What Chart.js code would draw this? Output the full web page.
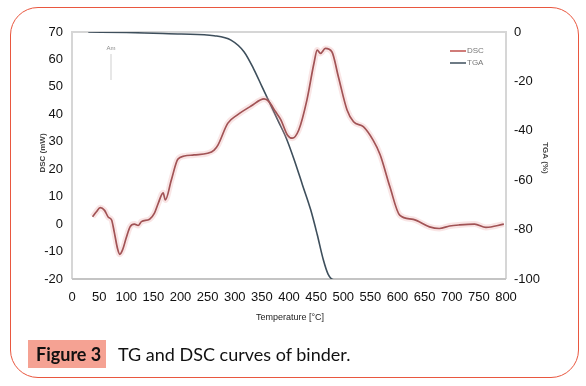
<!DOCTYPE html>
<html>
<head>
<meta charset="utf-8">
<script src="https://cdn.jsdelivr.net/npm/chart.js@4"></script>
<style>
    body { margin: 0; background: #fff; }
    #wrap { position: relative; width: 586px; height: 386px; overflow: hidden; }
    #frame {
        position: absolute; left: 10px; top: 7px; width: 569px; height: 371px;
        border: 1.5px solid #e9573f; border-radius: 28px; box-sizing: border-box;
    }
    #chart { position: absolute; left: 0; top: 0; }
    #caption {
        position: absolute; left: 28px; top: 340px; height: 28px;
        font-family: Lato, "Open Sans", sans-serif; font-size: 18px; color: #111;
        display: flex; align-items: center;
    }
    #caption .tag {
        background: #f5a293; height: 28px; width: 78px; box-sizing: border-box;
        padding-left: 8px; font-weight: bold; line-height: 28px;
    }
    #caption .txt { margin-left: 12px; }
</style>
</head>
<body>
<div id="wrap">
    <div id="frame"></div>
    <canvas id="chart" width="586" height="386"></canvas>
    <div id="caption"><span class="tag">Figure 3</span><span class="txt">TG and DSC curves of binder.</span></div>
</div>
<script>
// DSC curve (mW) against temperature
const dscTemp = [38, 45, 52, 60, 67, 73, 78, 84, 88, 93, 100, 107, 115, 122, 128, 143, 152, 159, 168, 172, 183, 195, 207, 225, 250, 262, 269, 287, 305, 330, 354, 363, 375, 385, 397, 406, 418, 433, 446, 452, 458, 467, 479, 491, 507, 519, 537, 555, 568, 586, 604, 629, 659, 677, 696, 714, 742, 763, 796];
const dscValues = [2.7, 4.5, 6, 5, 2.5, 1.5, -3, -9, -11, -9.5, -5, -1, 0, -0.5, 0.9, 1.8, 4, 7.6, 11.4, 8.8, 16, 23.6, 24.8, 25.2, 25.8, 27, 28.8, 36.7, 39.8, 43, 45.6, 44.6, 41, 38, 32.5, 31.3, 34.3, 45.2, 58.6, 63.4, 62.2, 64, 62.8, 53.7, 41.6, 37.3, 35.5, 30.6, 25.3, 13.6, 3.3, 1.7, -1, -1.6, -0.7, -0.3, 0, -1.2, 0];

// TGA curve (%) against temperature
const tgaTemp = [30, 100, 150, 201, 262, 293, 317, 335, 350, 365, 380, 395, 410, 425, 440, 452, 463, 472, 482, 500, 800];
const tgaValues = [0, -0.2, -0.5, -0.8, -1.5, -3.3, -8, -15, -22, -29, -36, -43, -52, -62, -72, -82, -92, -98, -100.3, -100.5, -100.5];

const xTicks = [0, 50, 100, 150, 200, 250, 300, 350, 400, 450, 500, 550, 600, 650, 700, 750, 800];
const dscTicks = [70, 60, 50, 40, 30, 20, 10, 0, -10, -20];
const tgaTicks = [0, -20, -40, -60, -80, -100];

const toPoints = (xs, ys) => xs.map((x, i) => ({ x: x, y: ys[i] }));

const tickFont = { family: '"Liberation Sans", Arial, sans-serif', size: 13 };

// frame lines, axis titles, legend and the small "Am" mark
const extras = {
    id: 'extras',
    beforeDatasetsDraw(chart) {
        const { ctx, chartArea: a } = chart;
        ctx.save();
        ctx.strokeStyle = '#d6d6d6';
        ctx.lineWidth = 2;
        ctx.beginPath();
        ctx.moveTo(a.left, a.bottom);
        ctx.lineTo(a.left, a.top);
        ctx.lineTo(a.right, a.top);
        ctx.lineTo(a.right, a.bottom);
        ctx.stroke();
        ctx.strokeStyle = '#c4c4c4';
        ctx.beginPath();
        ctx.moveTo(a.left, a.bottom);
        ctx.lineTo(a.right, a.bottom);
        ctx.stroke();
        ctx.restore();
    },
    afterDraw(chart) {
        const { ctx } = chart;
        ctx.save();
        ctx.fillStyle = '#444';
        ctx.font = 'bold 8px "Liberation Sans", Arial, sans-serif';
        ctx.textAlign = 'center';
        ctx.textBaseline = 'middle';
        ctx.translate(43, 153);
        ctx.rotate(-Math.PI / 2);
        ctx.fillText('DSC (mW)', 0, 0);
        ctx.restore();

        ctx.save();
        ctx.fillStyle = '#444';
        ctx.font = 'bold 8px "Liberation Sans", Arial, sans-serif';
        ctx.textAlign = 'center';
        ctx.textBaseline = 'middle';
        ctx.translate(545, 158);
        ctx.rotate(Math.PI / 2);
        ctx.fillText('TGA (%)', 0, 0);
        ctx.restore();

        ctx.save();
        ctx.fillStyle = '#222';
        ctx.font = '9px "Liberation Sans", Arial, sans-serif';
        ctx.textAlign = 'center';
        ctx.textBaseline = 'middle';
        ctx.fillText('Temperature [°C]', 290, 318);

        // legend
        ctx.lineWidth = 1.5;
        ctx.strokeStyle = '#c0504d';
        ctx.beginPath(); ctx.moveTo(450, 51); ctx.lineTo(466, 51); ctx.stroke();
        ctx.strokeStyle = '#3e4f5c';
        ctx.beginPath(); ctx.moveTo(450, 63); ctx.lineTo(466, 63); ctx.stroke();
        ctx.fillStyle = '#777';
        ctx.font = '8px "Liberation Sans", Arial, sans-serif';
        ctx.textAlign = 'left';
        ctx.fillText('DSC', 467, 51);
        ctx.fillText('TGA', 467, 63);

        // small marker near top left
        ctx.fillStyle = '#888';
        ctx.font = '6px "Liberation Sans", Arial, sans-serif';
        ctx.textAlign = 'center';
        ctx.fillText('Am', 111, 48);
        ctx.strokeStyle = '#cfcfcf';
        ctx.lineWidth = 1;
        ctx.beginPath(); ctx.moveTo(111, 54); ctx.lineTo(111, 80); ctx.stroke();
        ctx.restore();
    }
};

new Chart(document.getElementById('chart'), {
    type: 'line',
    data: {
        datasets: [
            {
                label: 'DSC halo',
                data: toPoints(dscTemp, dscValues),
                borderColor: 'rgba(232, 150, 150, 0.25)',
                borderWidth: 6,
                yAxisID: 'y'
            },
            {
                label: 'DSC',
                data: toPoints(dscTemp, dscValues),
                borderColor: '#8a3c3f',
                borderWidth: 1.7,
                yAxisID: 'y'
            },
            {
                label: 'TGA',
                data: toPoints(tgaTemp, tgaValues),
                borderColor: '#3e4f5c',
                borderWidth: 1.6,
                yAxisID: 'y1'
            }
        ]
    },
    options: {
        responsive: false,
        animation: false,
        events: [],
        layout: { padding: { top: 32, left: 0, right: 0, bottom: 0 } },
        elements: {
            point: { radius: 0 },
            line: { cubicInterpolationMode: 'monotone' }
        },
        plugins: { legend: { display: false }, tooltip: { enabled: false } },
        scales: {
            x: {
                type: 'linear',
                min: 0,
                max: 800,
                afterBuildTicks: s => { s.ticks = xTicks.map(v => ({ value: v })); },
                afterFit: s => { s.height = 107; },
                grid: { display: false, drawTicks: false },
                border: { display: false },
                ticks: { font: tickFont, color: '#111', padding: 11, maxRotation: 0, autoSkip: false }
            },
            y: {
                position: 'left',
                min: -20,
                max: 70,
                afterBuildTicks: s => { s.ticks = dscTicks.map(v => ({ value: v })); },
                afterFit: s => { s.width = 72; },
                grid: { display: false, drawTicks: false },
                border: { display: false },
                ticks: { font: tickFont, color: '#111', padding: 9 }
            },
            y1: {
                position: 'right',
                min: -100,
                max: 0,
                afterBuildTicks: s => { s.ticks = tgaTicks.map(v => ({ value: v })); },
                afterFit: s => { s.width = 80; },
                grid: { display: false, drawTicks: false },
                border: { display: false },
                ticks: { font: tickFont, color: '#111', padding: 8 }
            }
        }
    },
    plugins: [extras]
});
</script>
</body>
</html>
